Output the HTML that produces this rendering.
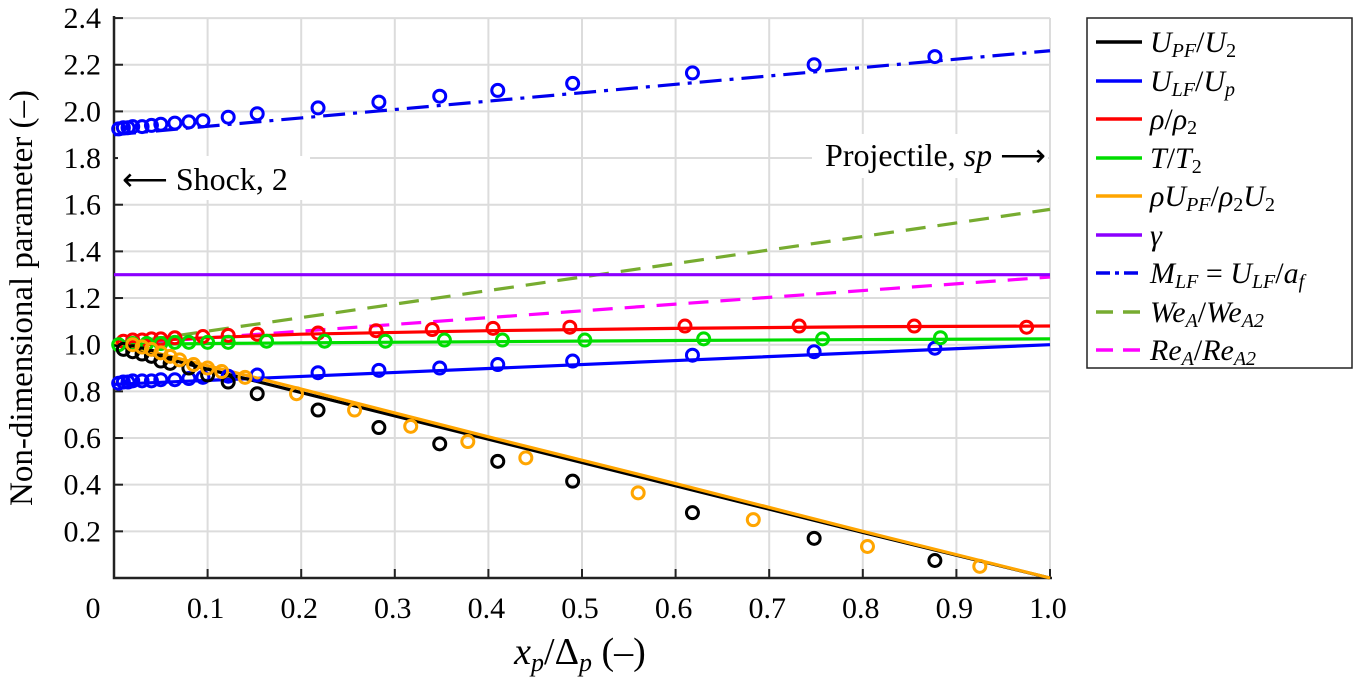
<!DOCTYPE html>
<html><head><meta charset="utf-8"><style>
body{margin:0;background:#fff}
svg text{font-family:"Liberation Serif",serif;fill:#000}
</style></head><body>
<svg id="c" width="1358" height="679" xmlns="http://www.w3.org/2000/svg"></svg>
<script>
const xTicks=[0.1,0.2,0.3,0.4,0.5,0.6,0.7,0.8,0.9,1.0];
const xTickLabels=["0.1","0.2","0.3","0.4","0.5","0.6","0.7","0.8","0.9","1.0"];
const yTicks=[0.2,0.4,0.6,0.8,1.0,1.2,1.4,1.6,1.8,2.0,2.2,2.4];
const yTickLabels=["0.2","0.4","0.6","0.8","1.0","1.2","1.4","1.6","1.8","2.0","2.2","2.4"];
const lineX=[0,0.1,0.2,0.4,0.6,0.8,1.0];
const upfLine=[1.0,0.895,0.795,0.595,0.395,0.195,0.0];
const ulfLine=[0.83,0.847,0.864,0.898,0.932,0.966,1.0];
const rhoLine=[1.01,1.03,1.045,1.06,1.07,1.077,1.08];
const tLine=[1.0,1.005,1.008,1.013,1.018,1.022,1.025];
const rhoULine=[1.01,0.91,0.81,0.605,0.405,0.2,0.0];
const gammaLine=[1.3,1.3,1.3,1.3,1.3,1.3,1.3];
const mLine=[1.9,1.936,1.972,2.044,2.116,2.188,2.26];
const weLine=[1.0,1.058,1.116,1.232,1.348,1.464,1.58];
const reLine=[1.0,1.029,1.058,1.116,1.174,1.232,1.29];
const upfPtsX=[0.01,0.02,0.03,0.04,0.05,0.06,0.08,0.1,0.122,0.153,0.218,0.283,0.348,0.41,0.49,0.618,0.748,0.877];
const upfPtsY=[0.98,0.97,0.96,0.95,0.93,0.92,0.9,0.87,0.84,0.79,0.72,0.645,0.575,0.5,0.415,0.28,0.17,0.075];
const rhoUPtsX=[0.02,0.03,0.04,0.05,0.06,0.07,0.085,0.1,0.115,0.14,0.195,0.257,0.317,0.378,0.44,0.56,0.683,0.805,0.925];
const rhoUPtsY=[1.0,0.99,0.98,0.965,0.95,0.935,0.915,0.9,0.885,0.86,0.79,0.72,0.65,0.585,0.515,0.365,0.25,0.135,0.05];
const ulfPtsX=[0.005,0.01,0.015,0.02,0.03,0.04,0.05,0.065,0.08,0.095,0.122,0.153,0.218,0.283,0.348,0.41,0.49,0.618,0.748,0.877];
const ulfPtsY=[0.835,0.84,0.84,0.845,0.845,0.845,0.85,0.85,0.855,0.86,0.865,0.87,0.88,0.89,0.9,0.915,0.93,0.955,0.97,0.985];
const rhoPtsX=[0.01,0.02,0.03,0.04,0.05,0.065,0.095,0.122,0.153,0.218,0.28,0.34,0.405,0.487,0.61,0.732,0.855,0.975];
const rhoPtsY=[1.015,1.02,1.02,1.025,1.025,1.03,1.035,1.04,1.045,1.05,1.06,1.065,1.07,1.075,1.08,1.08,1.08,1.075];
const tPtsX=[0.005,0.02,0.035,0.05,0.065,0.08,0.1,0.122,0.163,0.225,0.29,0.353,0.415,0.503,0.63,0.757,0.883];
const tPtsY=[1.0,1.005,1.005,1.005,1.01,1.01,1.01,1.01,1.015,1.015,1.015,1.02,1.02,1.02,1.025,1.025,1.03];
const mPtsX=[0.005,0.01,0.015,0.02,0.03,0.04,0.05,0.065,0.08,0.095,0.122,0.153,0.218,0.283,0.348,0.41,0.49,0.618,0.748,0.877];
const mPtsY=[1.925,1.93,1.93,1.935,1.935,1.94,1.945,1.95,1.955,1.96,1.975,1.99,2.015,2.04,2.065,2.09,2.12,2.165,2.2,2.235];

const X0=114,X1=1050,Y0=578,YS=233.3;
const sx=v=>X0+v*(X1-X0);
const sy=v=>Y0-v*YS;
const svg=document.getElementById('c');
const NS='http://www.w3.org/2000/svg';
function mk(tag,attrs,parent){const e=document.createElementNS(NS,tag);for(const k in attrs)e.setAttribute(k,attrs[k]);(parent||svg).appendChild(e);return e;}

for(let i=0;i<xTicks.length;i++){
 const g=mk('line',{x1:sx(xTicks[i]),x2:sx(xTicks[i]),y1:18,y2:Y0,stroke:'#dcdcdc','stroke-width':2});
 
 
}
for(let i=0;i<yTicks.length;i++){
 const g=mk('line',{x1:X0,x2:X1,y1:sy(yTicks[i]),y2:sy(yTicks[i]),stroke:'#dcdcdc','stroke-width':2});
 
 
}
const ax=mk('path',{d:`M${X0} 16 V${Y0} H${X1+2}`,stroke:'#222','stroke-width':2.5,fill:'none'});


for(let i=0;i<xTicks.length;i++){
 mk('line',{x1:sx(xTicks[i]),x2:sx(xTicks[i]),y1:Y0,y2:Y0-9,stroke:'#222','stroke-width':2});
 const t=mk('text',{x:sx(xTicks[i])-2,y:618,'font-size':30,'text-anchor':'middle'});
 t.textContent=xTickLabels[i];
 
 
}
const z=mk('text',{x:93,y:618,'font-size':30,'text-anchor':'middle'});z.textContent='0';


for(let i=0;i<yTicks.length;i++){
 mk('line',{x1:X0,x2:X0+9,y1:sy(yTicks[i]),y2:sy(yTicks[i]),stroke:'#222','stroke-width':2});
 const t=mk('text',{x:101,y:sy(yTicks[i])+10,'font-size':30,'text-anchor':'end'});
 t.textContent=yTickLabels[i];
 
 
}
function line(ys,color,dash,name){
 const d=lineX.map((x,i)=>(i?'L':'M')+sx(x)+' '+sy(ys[i])).join(' ');
 const p=mk('path',{d,stroke:color,'stroke-width':3.2,fill:'none'});
 if(dash)p.setAttribute('stroke-dasharray',dash);
 
 
}
function pts(xs,ys,color,name){
 for(let i=0;i<xs.length;i++){
  const c=mk('circle',{cx:sx(xs[i]),cy:sy(ys[i]),r:6,stroke:color,'stroke-width':3,fill:'none'});
  
  
 }
}
line(weLine,'#77ac30','20 12','we-line');
line(reLine,'#ff00ff','20 12','re-line');
line(gammaLine,'#8b00ff',null,'gamma-line');
line(mLine,'#0000ee','22 8 4 8','mach-line');
line(ulfLine,'#0000ff',null,'ulf-line');
line(tLine,'#00dd00',null,'t-line');
line(rhoLine,'#ff0000',null,'rho-line');
line(upfLine,'#000000',null,'upf-line');
line(rhoULine,'#ffa500',null,'rhou-line');
pts(mPtsX,mPtsY,'#0000ff','mach-point');
pts(ulfPtsX,ulfPtsY,'#0000ff','ulf-point');
pts(rhoPtsX,rhoPtsY,'#ff0000','rho-point');
pts(tPtsX,tPtsY,'#00dd00','t-point');
pts(upfPtsX,upfPtsY,'#000000','upf-point');
pts(rhoUPtsX,rhoUPtsY,'#ffa500','rhou-point');
</script>
<svg width="1358" height="679" style="position:absolute;left:0;top:0" xmlns="http://www.w3.org/2000/svg">
<text transform="translate(32,298) rotate(-90)" text-anchor="middle" font-size="33">Non-dimensional parameter (–)</text>
<text x="580" y="664" text-anchor="middle" font-size="38"><tspan font-style="italic">x<tspan font-size="26" dy="7">p</tspan></tspan><tspan dy="-7">/Δ</tspan><tspan font-style="italic" font-size="26" dy="7">p</tspan><tspan dy="-7"> (–)</tspan></text>
<rect x="118" y="156" width="192" height="44" fill="#fff"/>
<text x="122" y="190" font-size="32">⟵ Shock, 2</text>
<rect x="812" y="134" width="236" height="44" fill="#fff"/>
<text x="1046" y="166" font-size="32" text-anchor="end">Projectile, <tspan font-style="italic">sp</tspan> ⟶</text>
<g>
<rect x="1087" y="18" width="265" height="350" fill="#fff" stroke="#222" stroke-width="1.5"/>
<g font-size="30">
<line x1="1096" x2="1142" y1="42" y2="42" stroke="#000" stroke-width="3.5"/>
<text x="1150" y="52"><tspan font-style="italic">U</tspan><tspan font-style="italic" font-size="20" dy="5">PF</tspan><tspan dy="-5">/</tspan><tspan font-style="italic">U</tspan><tspan font-size="20" dy="5">2</tspan></text>
<line x1="1096" x2="1142" y1="81" y2="81" stroke="#0000ff" stroke-width="3.5"/>
<text x="1150" y="91"><tspan font-style="italic">U</tspan><tspan font-style="italic" font-size="20" dy="5">LF</tspan><tspan dy="-5">/</tspan><tspan font-style="italic">U</tspan><tspan font-style="italic" font-size="20" dy="5">p</tspan></text>
<line x1="1096" x2="1142" y1="119" y2="119" stroke="#ff0000" stroke-width="3.5"/>
<text x="1150" y="129"><tspan font-style="italic">ρ</tspan>/<tspan font-style="italic">ρ</tspan><tspan font-size="20" dy="5">2</tspan></text>
<line x1="1096" x2="1142" y1="158" y2="158" stroke="#00dd00" stroke-width="3.5"/>
<text x="1150" y="168"><tspan font-style="italic">T</tspan>/<tspan font-style="italic">T</tspan><tspan font-size="20" dy="5">2</tspan></text>
<line x1="1096" x2="1142" y1="196" y2="196" stroke="#ffa500" stroke-width="3.5"/>
<text x="1150" y="206"><tspan font-style="italic">ρU</tspan><tspan font-style="italic" font-size="20" dy="5">PF</tspan><tspan dy="-5">/</tspan><tspan font-style="italic">ρ</tspan><tspan font-size="20" dy="5">2</tspan><tspan font-style="italic" dy="-5">U</tspan><tspan font-size="20" dy="5">2</tspan></text>
<line x1="1096" x2="1142" y1="235" y2="235" stroke="#8b00ff" stroke-width="3.5"/>
<text x="1150" y="245" font-style="italic">γ</text>
<line x1="1096" x2="1142" y1="273" y2="273" stroke="#0000ee" stroke-width="3.5" stroke-dasharray="14 5 4 5"/>
<text x="1150" y="283"><tspan font-style="italic">M</tspan><tspan font-style="italic" font-size="20" dy="5">LF</tspan><tspan dy="-5"> = </tspan><tspan font-style="italic">U</tspan><tspan font-style="italic" font-size="20" dy="5">LF</tspan><tspan dy="-5">/</tspan><tspan font-style="italic">a</tspan><tspan font-style="italic" font-size="20" dy="5">f</tspan></text>
<line x1="1096" x2="1142" y1="312" y2="312" stroke="#77ac30" stroke-width="3.5" stroke-dasharray="17 10"/>
<text x="1150" y="322"><tspan font-style="italic">We</tspan><tspan font-style="italic" font-size="20" dy="5">A</tspan><tspan dy="-5">/</tspan><tspan font-style="italic">We</tspan><tspan font-style="italic" font-size="20" dy="5">A2</tspan></text>
<line x1="1096" x2="1142" y1="350" y2="350" stroke="#ff00ff" stroke-width="3.5" stroke-dasharray="17 10"/>
<text x="1150" y="360"><tspan font-style="italic">Re</tspan><tspan font-style="italic" font-size="20" dy="5">A</tspan><tspan dy="-5">/</tspan><tspan font-style="italic">Re</tspan><tspan font-style="italic" font-size="20" dy="5">A2</tspan></text>
</g></g>
</svg>
</body></html>
